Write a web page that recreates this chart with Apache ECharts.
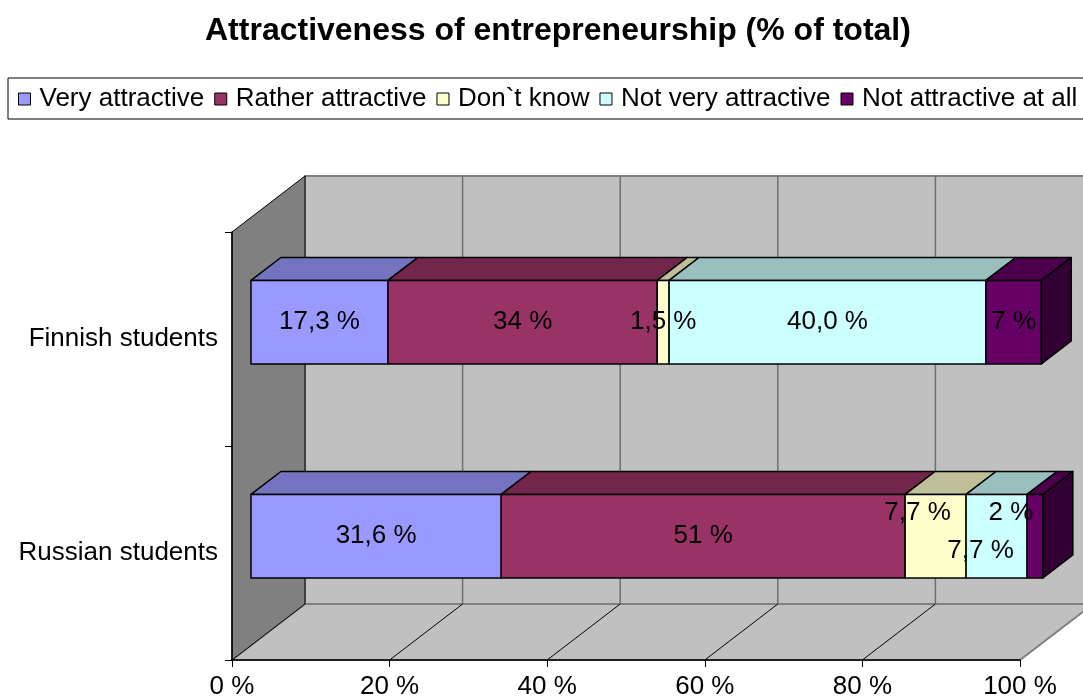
<!DOCTYPE html>
<html>
<head>
<meta charset="utf-8">
<script src="https://cdn.jsdelivr.net/npm/echarts@6/dist/echarts.min.js"></script>
<style>
  html, body { margin: 0; padding: 0; background: #fff; }
  #chart { width: 1083px; height: 700px; }
</style>
</head>
<body>
<div id="chart"></div>
<script>
// data
var categories = ['Finnish students', 'Russian students'];
var seriesNames = ['Very attractive', 'Rather attractive', 'Don`t know', 'Not very attractive', 'Not attractive at all'];
var veryAttractive = [17.3, 31.6];
var ratherAttractive = [34, 51];
var dontKnow = [1.5, 7.7];
var notVeryAttractive = [40.0, 7.7];
var notAttractiveAtAll = [7, 2];
var labelDecimals = [1, 0, 1, 1, 0];
var xTicks = [0, 20, 40, 60, 80, 100];

var values = [veryAttractive, ratherAttractive, dontKnow, notVeryAttractive, notAttractiveAtAll];

// style
var FONT = '"Liberation Sans", Arial, sans-serif';
var TXT = 26;
var frontColors = ['#9999FF', '#993366', '#FFFFCC', '#CCFFFF', '#660066'];
var topColors = ['#7373BF', '#73264C', '#BFBF99', '#99BFBF', '#4C004C'];
var sideColor = '#330033';
var DEPTH = [73, -56];      // wall depth in px
var FRONT_FX = 0.26, FRONT_FY = 0.3, BAR_DEPTH = 0.41;
var BAR_RATIO = 0.39;
var BAR_XSCALE = 1.005;
// label nudges [series-category] in px (Excel moved the crowded ones)
var labelNudge = {
  '2-1': [-18, -23],
  '3-1': [-16, 15],
  '4-1': [-24, -23]
};

function fmt(v, d) {
  return v.toFixed(d).replace('.', ',') + ' %';
}

// cumulative starts
var barData = values.map(function (arr, si) {
  return arr.map(function (v, ci) {
    var start = 0;
    for (var k = 0; k < si; k++) start += values[k][ci];
    return [start, start + v, ci];
  });
});

function frontX(api, v, c) {
  var L = api.coord([0, c])[0];
  var x = api.coord([v, c])[0];
  return L + (x - L) * BAR_XSCALE + DEPTH[0] * FRONT_FX;
}

function barRender(si) {
  return function (params, api) {
    var s = api.value(0), e = api.value(1), c = api.value(2);
    var cy = api.coord([s, c])[1];
    var band = api.size([0, 1])[1];
    var h = band * BAR_RATIO;
    var dx = DEPTH[0] * BAR_DEPTH, dy = DEPTH[1] * BAR_DEPTH;
    var x0 = frontX(api, s, c), x1 = frontX(api, e, c);
    var yT = cy + DEPTH[1] * FRONT_FY - h / 2, yB = yT + h;
    var stroke = { stroke: '#000', lineWidth: 1.5, lineJoin: 'round' };
    var kids = [
      { type: 'polygon', shape: { points: [[x0, yT], [x1, yT], [x1 + dx, yT + dy], [x0 + dx, yT + dy]] },
        style: Object.assign({ fill: topColors[si] }, stroke) },
      { type: 'rect', shape: { x: x0, y: yT, width: x1 - x0, height: h },
        style: Object.assign({ fill: frontColors[si] }, stroke) }
    ];
    if (si === values.length - 1) {
      kids.push({ type: 'polygon', shape: { points: [[x1, yT], [x1 + dx, yT + dy], [x1 + dx, yB + dy], [x1, yB]] },
        style: Object.assign({ fill: sideColor }, stroke) });
    }
    return { type: 'group', children: kids };
  };
}

function wallRender(params, api) {
  var band = api.size([0, 1])[1];
  var L = api.coord([0, 0])[0], R = api.coord([100, 0])[0];
  var T = api.coord([0, 0])[1] - band / 2;
  var B = api.coord([0, categories.length - 1])[1] + band / 2;
  var DX = DEPTH[0], DY = DEPTH[1];
  var kids = [
    { type: 'rect', shape: { x: L + DX, y: T + DY, width: R - L + 10, height: B - T },
      style: { fill: '#C0C0C0', stroke: '#808080', lineWidth: 2 } },
    { type: 'polygon', shape: { points: [[L, B], [R, B], [R + DX, B + DY], [L + DX, B + DY]] },
      style: { fill: '#C0C0C0', stroke: '#808080', lineWidth: 2 } },
    { type: 'polygon', shape: { points: [[L, T], [L + DX, T + DY], [L + DX, B + DY], [L, B]] },
      style: { fill: '#808080', stroke: '#000', lineWidth: 1 } }
  ];
  xTicks.forEach(function (v) {
    var x = api.coord([v, 0])[0];
    if (v > 0) {
      kids.push({ type: 'line', shape: { x1: x + DX, y1: T + DY, x2: x + DX, y2: B + DY },
        style: { stroke: '#707070', lineWidth: 1.5 } });
    }
    if (v > 0 && v < 100) {
      kids.push({ type: 'line', shape: { x1: x, y1: B, x2: x + DX, y2: B + DY },
        style: { stroke: '#000', lineWidth: 1 } });
    }
  });
  return { type: 'group', children: kids };
}

var labelData = [];
values.forEach(function (arr, si) {
  arr.forEach(function (v, ci) {
    labelData.push([barData[si][ci][0] + v / 2, ci, si]);
  });
});

function labelRender(params, api) {
  var m = api.value(0), c = api.value(1), si = api.value(2);
  var nudge = labelNudge[si + '-' + c] || [0, 0];
  var x = frontX(api, m, c) + nudge[0];
  var y = api.coord([m, c])[1] + DEPTH[1] * FRONT_FY + nudge[1];
  return {
    type: 'text',
    style: {
      text: fmt(values[si][c], labelDecimals[si]),
      x: x, y: y, align: 'center', verticalAlign: 'middle',
      fill: '#000', fontSize: TXT, fontFamily: FONT
    }
  };
}

var chart = echarts.init(document.getElementById('chart'));

var series = [{
  name: 'walls',
  type: 'custom',
  z: 1,
  silent: true,
  renderItem: wallRender,
  encode: { x: 0, y: 1 },
  data: [[0, 0]]
}];
seriesNames.forEach(function (name, si) {
  series.push({
    name: name,
    type: 'custom',
    z: 2 + si,
    renderItem: barRender(si),
    itemStyle: { color: frontColors[si] },
    encode: { x: [0, 1], y: 2 },
    data: barData[si]
  });
});
series.push({
  name: 'labels',
  type: 'custom',
  z: 20,
  silent: true,
  renderItem: labelRender,
  encode: { x: 0, y: 1 },
  data: labelData
});

chart.setOption({
  animation: false,
  textStyle: { fontFamily: FONT },
  title: {
    text: 'Attractiveness of entrepreneurship (% of total)',
    left: 200,
    top: 10,
    textStyle: { fontSize: 32, fontWeight: 'bold', color: '#000', fontFamily: FONT }
  },
  legend: {
    data: seriesNames,
    left: 8,
    top: 78,
    width: 1200,
    padding: [8, 14, 7, 10],
    itemGap: 10,
    itemWidth: 12,
    itemHeight: 12,
    icon: 'rect',
    borderColor: '#000',
    borderWidth: 1,
    itemStyle: { borderColor: '#000', borderWidth: 1 },
    textStyle: { fontSize: TXT, color: '#000', fontFamily: FONT, padding: [0, 0, 0, 4] }
  },
  grid: { left: 232, right: 63, top: 232, bottom: 40, containLabel: false },
  xAxis: {
    type: 'value',
    min: 0,
    max: 100,
    interval: 20,
    z: 10,
    axisLine: { show: true, lineStyle: { color: '#000', width: 1.5 } },
    axisTick: { show: true, length: 7, lineStyle: { color: '#000' } },
    axisLabel: { formatter: '{value} %', fontSize: TXT, color: '#000', margin: 14, fontFamily: FONT },
    splitLine: { show: false }
  },
  yAxis: {
    type: 'category',
    inverse: true,
    data: categories,
    z: 10,
    axisLine: { show: true, lineStyle: { color: '#000', width: 1.5 } },
    axisTick: { show: true, length: 7, lineStyle: { color: '#000' } },
    axisLabel: { fontSize: TXT, color: '#000', margin: 14, fontFamily: FONT },
    splitLine: { show: false }
  },
  series: series
});
</script>
</body>
</html>
